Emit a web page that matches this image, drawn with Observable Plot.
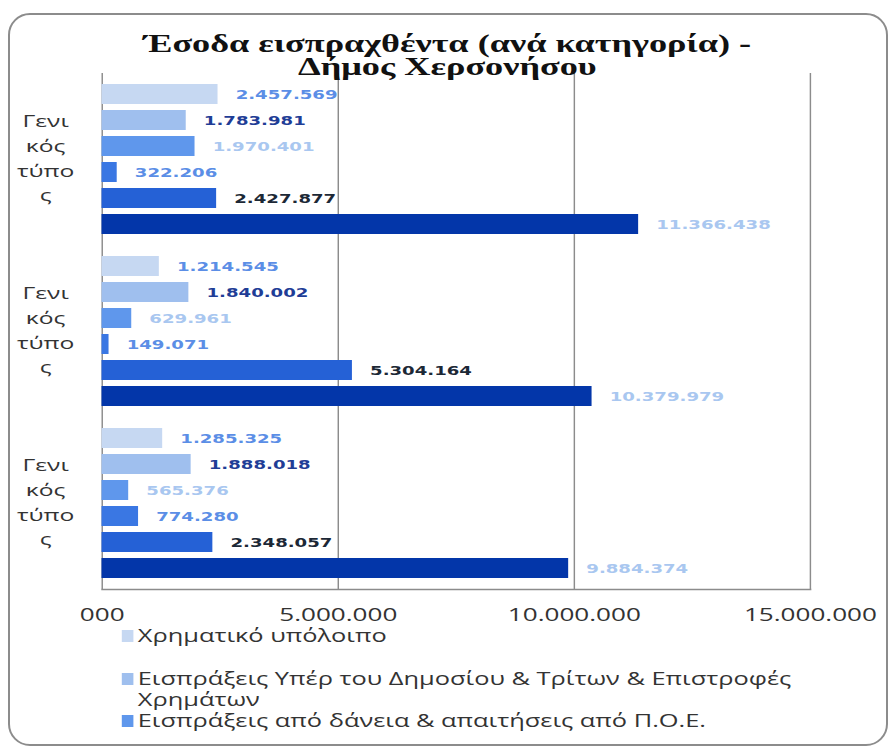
<!DOCTYPE html>
<html><head><meta charset="utf-8">
<script src="https://cdn.jsdelivr.net/npm/d3@7"></script>
<script src="https://cdn.jsdelivr.net/npm/@observablehq/plot@0.6"></script>
<style>
body{margin:0;background:#fff;}
#wrap{position:relative;width:894px;height:749px;overflow:hidden;}
#frame{position:absolute;left:8px;top:13px;width:876px;height:729px;border:2px solid #8c8c8c;border-radius:22px;box-sizing:content-box;}
#s{position:absolute;left:0;top:0;width:617px;height:749px;transform:scaleX(1.45);transform-origin:0 0;}
#chart{position:absolute;left:0;top:0;}
#title{position:absolute;left:0;top:32px;width:617px;text-align:center;font-family:"Liberation Serif",serif;font-weight:bold;font-size:25px;line-height:23px;color:#111;z-index:2;}
.lg{position:absolute;left:84px;font-family:"Open Sans",sans-serif;font-size:17.5px;line-height:21px;color:#333;}
.lg .sw{position:absolute;left:0;width:8.3px;height:12px;}
.lg .tx{position:absolute;left:11px;white-space:nowrap;}
</style>
</head><body>
<div id="wrap">
  <div id="frame"></div>
  <div id="s">
    <div id="chart"></div>
    <div id="title"></div>
    <div id="legend"></div>
  </div>
</div>
<script>
const titleLines = ["Έσοδα εισπραχθέντα (ανά κατηγορία) -", "Δήμος Χερσονήσου"];
const categories = ["Γενικός τύπος", "Γενικός τύπος", "Γενικός τύπος"];
const categoryWrapped = "Γενι\nκός\nτύπο\nς";
const groupKeys = ["g1", "g2", "g3"];
const seriesNames = [
  "Χρηματικό υπόλοιπο",
  "Εισπράξεις Υπέρ του Δημοσίου & Τρίτων & Επιστροφές Χρημάτων",
  "Εισπράξεις από δάνεια & απαιτήσεις από Π.Ο.Ε.",
  "Σειρά 4", "Σειρά 5", "Σειρά 6"
];
const legendShown = [
  "Χρηματικό υπόλοιπο",
  "Εισπράξεις Υπέρ του Δημοσίου & Τρίτων & Επιστροφές\nΧρημάτων",
  "Εισπράξεις από δάνεια & απαιτήσεις από Π.Ο.Ε."
];
const group1Values = [2457569, 1783981, 1970401, 322206, 2427877, 11366438];
const group2Values = [1214545, 1840002, 629961, 149071, 5304164, 10379979];
const group3Values = [1285325, 1888018, 565376, 774280, 2348057, 9884374];
const xTicks = [0, 5000000, 10000000, 15000000];
const xTickLabels = ["000", "5.000.000", "10.000.000", "15.000.000"];
const barColors = ["#c6d8f2", "#9fbfee", "#5f97ec", "#3a77e3", "#2561d6", "#0336a9"];
const labelColors = ["#5b8ee6", "#1f3d96", "#a9c7f0", "#5b8ee6", "#1c2836", "#a9c7f0"];

const fmt = d3.formatLocale({decimal: ",", thousands: ".", grouping: [3], currency: ["", ""]}).format(",d");
const allValues = [group1Values, group2Values, group3Values];
const data = [];
allValues.forEach((vals, gi) => vals.forEach((v, si) => data.push({g: groupKeys[gi], si, v})));

document.getElementById("title").innerHTML = titleLines.join("<br>");

const plot = Plot.plot({
  width: 617,
  height: 630,
  marginLeft: 70,
  marginRight: 58.6,
  marginTop: 72,
  marginBottom: 40,
  style: {background: "transparent", overflow: "visible"},
  x: {domain: [0, 15000000], axis: null, label: null},
  y: {domain: d3.range(6), axis: null, paddingInner: 0.222, paddingOuter: 0.309},
  fy: {domain: groupKeys, axis: null, padding: 0},
  marks: [
    Plot.ruleX(xTicks, {stroke: "#8c8c8c", strokeWidth: 1}),
    Plot.frame({anchor: "bottom", fy: [groupKeys[groupKeys.length - 1]], stroke: "#8c8c8c", strokeWidth: 1.3}),
    Plot.barX(data, {fy: "g", y: "si", x: "v", fill: d => barColors[d.si]}),
    Plot.text(data, {fy: "g", y: "si", x: "v", text: d => fmt(d.v), dx: 12, textAnchor: "start",
      fill: d => labelColors[d.si], fontWeight: "bold", fontSize: 12.5, fontFamily: "DejaVu Sans"}),
    Plot.text(groupKeys, {fy: d => d, text: () => categoryWrapped, frameAnchor: "left", dx: -39, dy: -3,
      textAnchor: "middle", fontSize: 17, lineHeight: 1.45, fill: "#333", fontFamily: "Open Sans"}),
    Plot.axisX(xTicks, {tickFormat: d => xTickLabels[xTicks.indexOf(d)], tickSize: 0, tickPadding: 19,
      fontSize: 18, fontFamily: "Open Sans", fill: "#333", label: null})
  ]
});
document.getElementById("chart").appendChild(plot);

const lgTops = [625, 668, 710];
const lg = document.getElementById("legend");
legendShown.forEach((name, i) => {
  const row = document.createElement("div");
  row.className = "lg";
  row.style.top = lgTops[i] + "px";
  row.innerHTML = `<div class="sw" style="background:${barColors[i]};top:5px"></div><div class="tx">${name.replace("\n", "<br>")}</div>`;
  lg.appendChild(row);
});
</script>
</body></html>
